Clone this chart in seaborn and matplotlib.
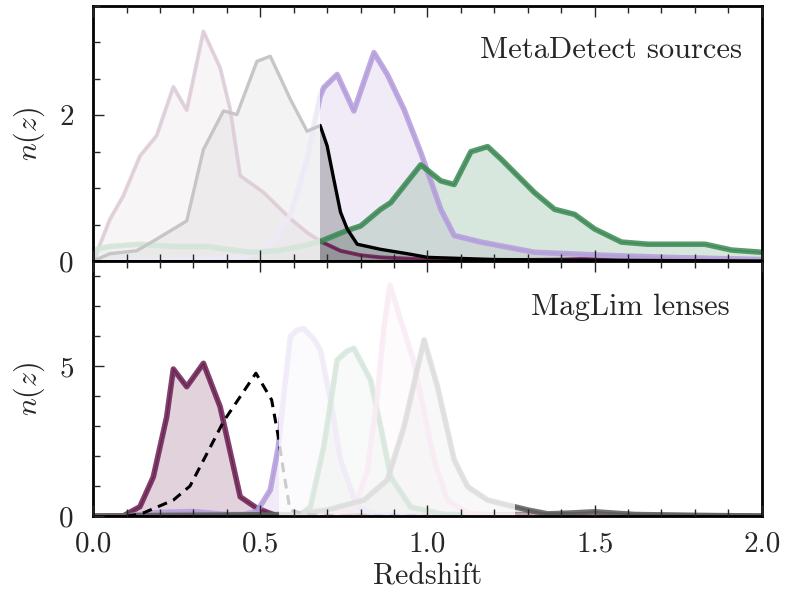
import matplotlib
matplotlib.use("Agg")
import matplotlib.pyplot as plt
from matplotlib.ticker import MultipleLocator, FormatStrFormatter
import seaborn as sns

sns.set_theme(style="ticks")
plt.rcParams.update({
    "font.family": "serif",
    "font.serif": ["cmr10", "DejaVu Serif"],
    "mathtext.fontset": "cm",
    "axes.formatter.use_mathtext": True,
    "axes.unicode_minus": False,
})

# ---- source redshift distributions (MetaDetect) ----
src1_z = [0.0, 0.01, 0.05, 0.09, 0.14, 0.19, 0.24, 0.28, 0.33, 0.38, 0.41, 0.44, 0.51, 0.55,
          0.59, 0.64, 0.68, 0.74, 0.80, 0.86, 1.0, 1.2, 1.4, 1.48, 1.56, 1.7, 2.0]
src1_n = [0.0, 0.1, 0.57, 0.89, 1.44, 1.72, 2.39, 2.07, 3.15, 2.65, 2.08, 1.17, 0.94, 0.76,
          0.58, 0.39, 0.27, 0.14, 0.08, 0.05, 0.02, 0.01, 0.02, 0.03, 0.01, 0.0, 0.0]

src2_z = [0.0, 0.05, 0.13, 0.19, 0.28, 0.33, 0.39, 0.43, 0.49, 0.53, 0.59, 0.64, 0.679, 0.70,
          0.72, 0.74, 0.76, 0.79, 0.86, 0.94, 1.0, 1.2, 1.5, 2.0]
src2_n = [0.0, 0.1, 0.14, 0.3, 0.55, 1.53, 2.06, 2.01, 2.74, 2.81, 2.22, 1.78, 1.86, 1.58,
          1.12, 0.67, 0.44, 0.23, 0.16, 0.1, 0.05, 0.02, 0.01, 0.0]

src3_z = [0.0, 0.3, 0.45, 0.51, 0.55, 0.59, 0.64, 0.66, 0.679, 0.69, 0.73, 0.78, 0.84, 0.88,
          0.93, 0.98, 1.04, 1.08, 1.16, 1.32, 1.52, 1.72, 2.0]
src3_n = [0.0, 0.02, 0.05, 0.16, 0.35, 0.63, 1.4, 1.85, 2.26, 2.38, 2.56, 2.06, 2.86, 2.56,
          2.08, 1.49, 0.71, 0.35, 0.26, 0.12, 0.08, 0.05, 0.02]

src4_z = [0.0, 0.01, 0.05, 0.14, 0.24, 0.34, 0.47, 0.55, 0.63, 0.68, 0.76, 0.80, 0.86, 0.89,
          0.98, 1.04, 1.08, 1.13, 1.18, 1.22, 1.32, 1.38, 1.44, 1.50, 1.58, 1.66, 1.83, 1.91, 2.0]
src4_n = [0.0, 0.16, 0.2, 0.23, 0.2, 0.2, 0.12, 0.14, 0.21, 0.27, 0.42, 0.48, 0.71, 0.8,
          1.32, 1.10, 1.05, 1.50, 1.57, 1.40, 0.94, 0.71, 0.64, 0.44, 0.26, 0.23, 0.23, 0.15, 0.12]

# ---- lens redshift distributions (MagLim) ----
lens1_z = [0.0, 0.09, 0.14, 0.18, 0.22, 0.24, 0.28, 0.33, 0.38, 0.44, 0.49, 0.55, 2.0]
lens1_n = [0.0, 0.0, 0.31, 1.3, 3.3, 4.9, 4.31, 5.09, 3.64, 0.64, 0.26, 0.0, 0.0]

lens2_z = [0.0, 0.1, 0.2, 0.3, 0.4, 0.45, 0.49, 0.53, 0.554, 0.57, 0.59, 0.61, 0.63, 0.66,
           0.68, 0.71, 0.74, 0.79, 0.85, 1.0, 2.0]
lens2_n = [0.0, 0.0, 0.12, 0.15, 0.05, 0.05, 0.15, 0.87, 2.3, 4.0, 5.98, 6.2, 6.25, 5.9,
           5.53, 3.87, 1.87, 0.3, 0.05, 0.0, 0.0]

lens3_z = [0.0, 0.55, 0.62, 0.65, 0.69, 0.73, 0.76, 0.78, 0.83, 0.86, 0.89, 0.95, 1.05, 2.0]
lens3_n = [0.0, 0.0, 0.05, 0.3, 2.31, 5.2, 5.5, 5.59, 4.53, 2.98, 1.31, 0.3, 0.05, 0.0]

lens4_z = [0.0, 0.7, 0.78, 0.82, 0.85, 0.87, 0.888, 0.918, 0.958, 1.02, 1.06, 1.12, 1.2, 2.0]
lens4_n = [0.0, 0.0, 0.2, 1.5, 4.0, 6.3, 7.7, 6.6, 5.2, 1.87, 0.53, 0.1, 0.02, 0.0]

lens5_z = [0.0, 0.6, 0.7, 0.81, 0.88, 0.93, 0.99, 1.03, 1.08, 1.12, 1.18, 1.26, 1.30, 1.36,
           1.43, 1.50, 1.62, 1.8, 2.0]
lens5_n = [0.0, 0.05, 0.2, 0.53, 1.2, 2.98, 5.87, 4.31, 1.87, 0.98, 0.53, 0.31, 0.2, 0.07,
           0.1, 0.14, 0.05, 0.02, 0.0]

# kernel overlaid on the lens panel
kern_z = [0.10, 0.12, 0.15, 0.24, 0.29, 0.36, 0.39, 0.487, 0.534, 0.554, 0.569, 0.589, 0.64, 0.75, 1.0]
kern_n = [0.0, 0.02, 0.1, 0.53, 1.0, 2.5, 3.15, 4.76, 3.87, 2.64, 1.53, 0.2, 0.05, 0.0, 0.0]

MAROON = "#6b1f52"
LAVENDER = "#b49ddb"
GREEN = "#3d8a55"
PINK = "#e3a1c9"
GREY = "#5a5a5a"

fig, (ax1, ax2) = plt.subplots(2, 1, figsize=(7.89, 6.0), dpi=100, sharex=True)
fig.subplots_adjust(left=0.118, right=0.9655, top=0.99, bottom=0.14, hspace=0)


def draw_nz(ax, z, n, color, lw=4.0, alpha_line=0.85, fill=True):
    if fill:
        ax.fill_between(z, 0, n, color=color, alpha=0.2, lw=0, zorder=1)
    sns.lineplot(x=z, y=n, ax=ax, color=color, lw=lw, alpha=alpha_line,
                 sort=False, estimator=None, zorder=2)
    sns.lineplot(x=z, y=n, ax=ax, color=color, lw=1.0, alpha=0.9,
                 sort=False, estimator=None, zorder=2)


# top: sources
draw_nz(ax1, src1_z, src1_n, MAROON, lw=2.8)
draw_nz(ax1, src3_z, src3_n, LAVENDER)
draw_nz(ax1, src4_z, src4_n, GREEN)
draw_nz(ax1, src2_z, src2_n, "black", lw=2.4, alpha_line=1.0)
ax1.axvspan(0.0, 0.679, color="white", alpha=0.78, lw=0, zorder=4)

# bottom: lenses
draw_nz(ax2, lens1_z, lens1_n, MAROON)
draw_nz(ax2, lens2_z, lens2_n, LAVENDER)
draw_nz(ax2, lens3_z, lens3_n, GREEN)
draw_nz(ax2, lens4_z, lens4_n, PINK)
draw_nz(ax2, lens5_z, lens5_n, GREY)
ax2.plot(kern_z, kern_n, color="black", lw=2.2, ls=(0, (3.2, 2.2)), zorder=3)
ax2.axvspan(0.555, 1.262, color="white", alpha=0.8, lw=0, zorder=4)

ax1.text(0.97, 0.796, "MetaDetect sources", transform=ax1.transAxes,
         ha="right", va="baseline", fontsize=22)
ax2.text(0.952, 0.79, "MagLim lenses", transform=ax2.transAxes,
         ha="right", va="baseline", fontsize=22)

ax1.set_ylim(0, 3.5)
ax2.set_ylim(0, 8.5)
ax2.set_xlim(0, 2.0)
ax1.yaxis.set_major_locator(MultipleLocator(2))
ax1.yaxis.set_minor_locator(MultipleLocator(0.5))
ax2.yaxis.set_major_locator(MultipleLocator(5))
ax2.yaxis.set_minor_locator(MultipleLocator(1))
ax2.xaxis.set_major_locator(MultipleLocator(0.5))
ax2.xaxis.set_minor_locator(MultipleLocator(0.1))
ax2.xaxis.set_major_formatter(FormatStrFormatter("%.1f"))

for ax in (ax1, ax2):
    ax.set_ylabel(r"$n(z)$", fontsize=21.5, labelpad=8)
    ax.tick_params(which="both", direction="in", top=True, bottom=True,
                   left=True, right=False, labelsize=21, width=1.0)
    ax.tick_params(axis="x", pad=11)
    ax.tick_params(axis="y", pad=14)
    ax.tick_params(which="major", length=8)
    ax.tick_params(which="minor", length=5)
    for s in ax.spines.values():
        s.set_linewidth(2.0)
        s.set_color("black")
        s.set_zorder(10)
    ax.xaxis.set_zorder(10)
    ax.yaxis.set_zorder(10)

ax1.tick_params(labelbottom=False)
ax2.set_xlabel("Redshift", fontsize=21.5, labelpad=4)

fig.savefig("out.png", dpi=100)
